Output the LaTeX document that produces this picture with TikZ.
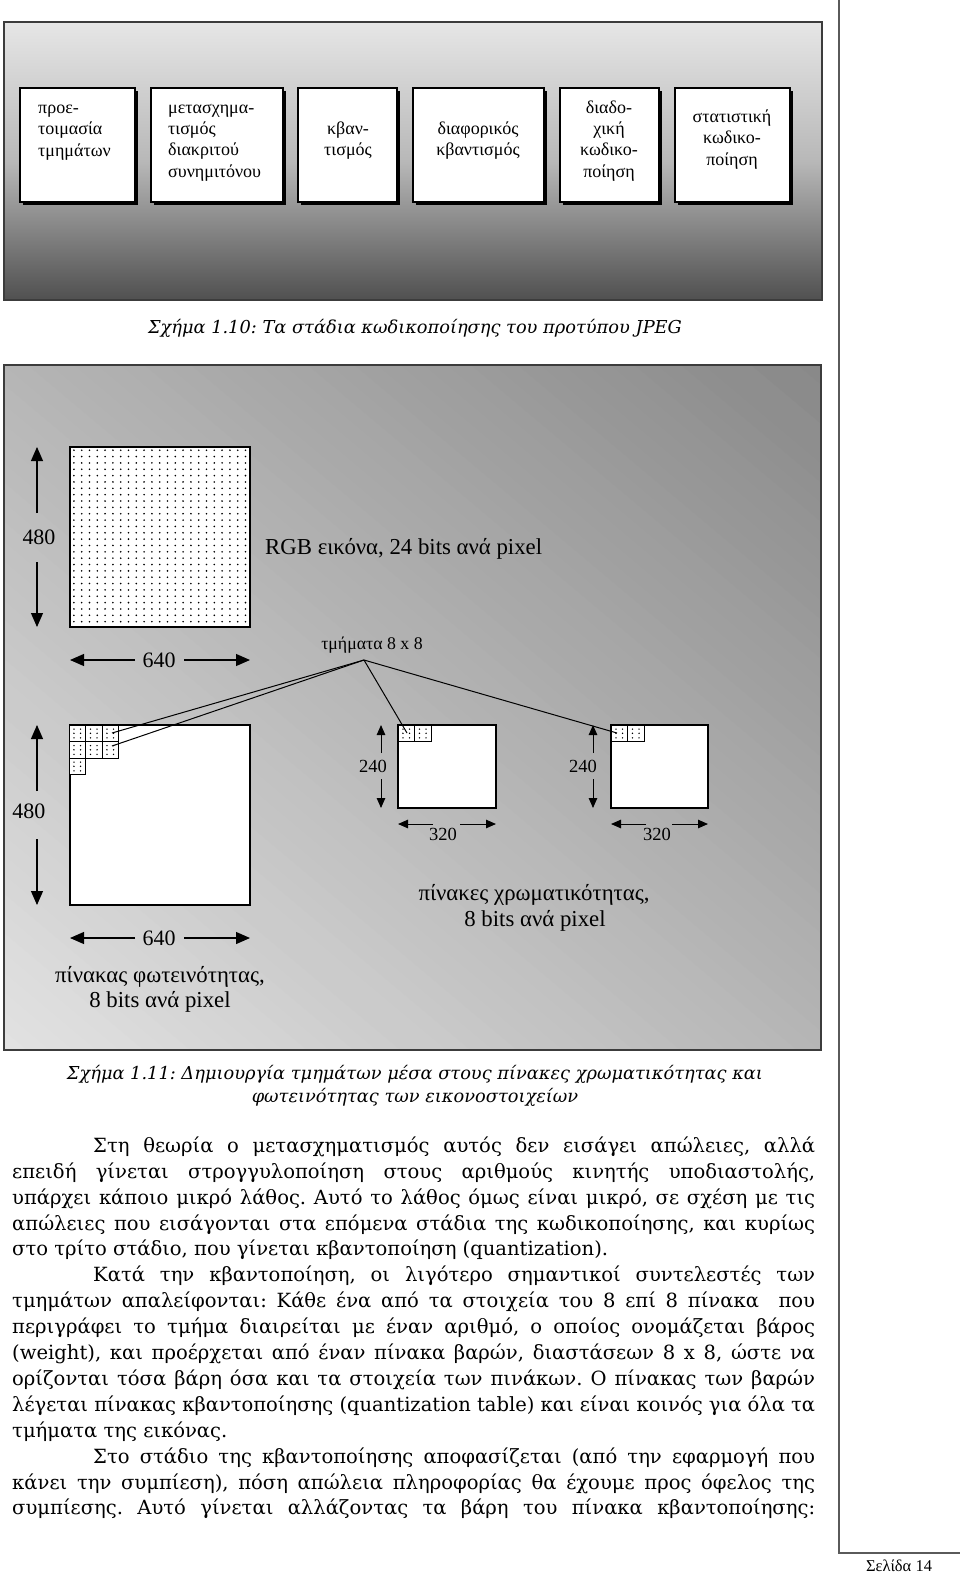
\documentclass[tikz,border=0pt]{standalone}
\usepackage{fontspec}
\usepackage{graphicx}
\setmainfont{Liberation Serif}
\newfontfamily\bodyfont{DejaVu Serif}
\usetikzlibrary{arrows.meta}
\frenchspacing

\definecolor{figAtop}{HTML}{E6E6E6}
\definecolor{figAmid}{HTML}{B8B8B8}
\definecolor{figAbot}{HTML}{505050}
\definecolor{figBdark}{HTML}{888888}
\definecolor{figBlight}{HTML}{E2E2E2}
\definecolor{frame}{HTML}{3C3C3C}
\definecolor{pageline}{HTML}{5A5A5A}

\newsavebox\calbox
\newsavebox\jbox
\newcommand\calib[4]{%
  \sbox\calbox{#2\fontsize{10pt}{12pt}\selectfont #4}%
  \pgfmathsetmacro#1{10*#3/\the\wd\calbox}}
\newcommand\jl[2]{%
  \sbox\jbox{#2}%
  \ifdim\wd\jbox>#1pt
    \pgfmathsetmacro\jr{#1/\the\wd\jbox}%
    \scalebox{\jr}[1]{\usebox\jbox}%
  \else
    \hbox to #1pt{#2}%
  \fi}

\tikzset{
  panel/.style={draw=frame, line width=1.4pt},
  stage/.style={draw=black, fill=white, line width=1.1pt, inner sep=0pt,
    preaction={fill=black, transform canvas={shift={(2.5pt,-2.5pt)}}}},
  boxtxt/.style={font=\fontsize{18}{21.3}\selectfont, inner sep=0pt},
  lbl/.style={font=\fontsize{22.8}{26}\selectfont, inner sep=0pt},
  num/.style={font=\fontsize{22}{26}\selectfont, inner sep=0pt},
  snum/.style={font=\fontsize{18.5}{22}\selectfont, inner sep=0pt},
  tmtxt/.style={font=\fontsize{17.8}{21}\selectfont, inner sep=0pt},
  bigarrow/.style={-{Triangle[length=14pt,width=12pt]}, line width=1.1pt},
  smallarrow/.style={-{Triangle[length=10pt,width=8.5pt]}, line width=1pt},
  link/.style={line width=1pt},
  img/.style={draw=black, fill=white, line width=1.1pt, inner sep=0pt},
  tile/.style={draw=black, fill=white, line width=0.9pt},
  bodyline/.style={font=\bodyfont\fontsize{\bsz}{25}\selectfont, inner sep=0pt, anchor=mid west},
  capline/.style={font=\bodyfont\itshape\fontsize{\csz}{23}\selectfont, inner sep=0pt, anchor=mid},
}

\newcommand\tiledots[2]{%
  \foreach \dx in {0.3,0.7}{\foreach \dy in {0.25,0.5,0.78}{%
    \fill (#1+\dx*16.5,#2+\dy*16.5) circle (0.8);}}}

\begin{document}
\calib{\bsz}{\bodyfont}{596}{στο τρίτο στάδιο, που γίνεται κβαντοποίηση (quantization).}%
\calib{\csz}{\bodyfont\itshape}{534}{Σχήμα 1.10: Τα στάδια κωδικοποίησης του προτύπου JPEG}%
\begin{tikzpicture}[x=1pt,y=-1pt]
\useasboundingbox (0,0) rectangle (960,1575);
\fill[white] (0,0) rectangle (960,1575);

% ---------- Figure 1.10 ----------
\shade[top color=figAtop, bottom color=figAbot, middle color=figAmid] (4,22) rectangle (822,300);
\draw[panel] (4,22) rectangle (822,300);

\node[stage, minimum width=115pt, minimum height=114pt] (s1) at (77.5,145) {};
\node[stage, minimum width=132pt, minimum height=114pt] (s2) at (217,145) {};
\node[stage, minimum width=99pt,  minimum height=114pt] (s3) at (347.5,145) {};
\node[stage, minimum width=131pt, minimum height=114pt] (s4) at (478.5,145) {};
\node[stage, minimum width=99pt,  minimum height=114pt] (s5) at (609.5,145) {};
\node[stage, minimum width=115pt, minimum height=114pt] (s6) at (732.5,145) {};

\node[boxtxt, align=left, anchor=west] (t1) at (38,130.5) {\strut προε-\\\strut τοιμασία\\\strut τμημάτων};
\node[boxtxt, align=left, anchor=west] (t2) at (168,141) {\strut μετασχημα-\\\strut τισμός\\\strut διακριτού\\\strut συνημιτόνου};
\node[boxtxt, align=center] (t3) at (348,140.5) {\strut κβαν-\\\strut τισμός};
\node[boxtxt, align=center] (t4) at (478,140.5) {\strut διαφορικός\\\strut κβαντισμός};
\node[boxtxt, align=center] (t5) at (609,141) {\strut διαδο-\\\strut χική\\\strut κωδικο-\\\strut ποίηση};
\node[boxtxt, align=center] (t6) at (732,139.5) {\strut στατιστική\\\strut κωδικο-\\\strut ποίηση};

\node[capline] (cap1) at (415,331) {Σχήμα 1.10: Τα στάδια κωδικοποίησης του προτύπου JPEG};

% ---------- Figure 1.11 ----------
\begin{scope}
  \clip (4,365) rectangle (821,1050);
  \foreach \k in {0,...,69}{%
    \pgfmathsetmacro\ta{-525+\k*15}%
    \pgfmathsetmacro\tb{\ta+15.8}%
    \pgfmathtruncatemacro\pc{(\k+0.5)/70*100}%
    \fill[figBdark!\pc!figBlight]
      (412.5+\ta*0.643-459.6, 707.5-\ta*0.766-385.8) --
      (412.5+\ta*0.643+459.6, 707.5-\ta*0.766+385.8) --
      (412.5+\tb*0.643+459.6, 707.5-\tb*0.766+385.8) --
      (412.5+\tb*0.643-459.6, 707.5-\tb*0.766-385.8) -- cycle;}
\end{scope}
\draw[panel] (4,365) rectangle (821,1050);

% RGB image
\node[img, minimum width=180pt, minimum height=180pt] (rgb) at (160,537) {};
\foreach \i in {0,...,22}{\foreach \j in {0,...,27}{%
  \fill (73.9+\i*7.8,450.2+\j*6.35) circle (0.9);}}
\node[num] (n480a) at (39,537) {480};
\draw[bigarrow] (37,513) -- (37,447);
\draw[bigarrow] (37,562) -- (37,627);
\node[num] (n640a) at (159,660) {640};
\draw[bigarrow] (135,660) -- (70,660);
\draw[bigarrow] (184,660) -- (250,660);
\node[lbl, anchor=mid west] (rgbl) at (265,552) {RGB εικόνα, 24 bits ανά pixel};

\node[tmtxt, anchor=mid] (tm) at (372,647) {τμήματα 8 x 8};
\coordinate (apex) at (364,660);

% luminance
\node[img, minimum width=180pt, minimum height=180pt] (lum) at (160,815) {};
\foreach \tx/\ty in {69/725, 85.5/725, 102/725, 69/741.5, 85.5/741.5, 102/741.5, 69/758}{%
  \draw[tile] (\tx,\ty) rectangle ++(16.5,16.5);
  \tiledots{\tx}{\ty}}
\node[num] (n480b) at (29,811) {480};
\draw[bigarrow] (37,791) -- (37,725);
\draw[bigarrow] (37,839) -- (37,905);
\node[num] (n640b) at (159,938) {640};
\draw[bigarrow] (135,938) -- (70,938);
\draw[bigarrow] (184,938) -- (250,938);
\node[lbl, anchor=mid] (luml1) at (160,980) {πίνακας φωτεινότητας,};
\node[lbl, anchor=mid] (luml2) at (160,1005) {8 bits ανά pixel};

% chroma
\node[img, minimum width=98pt, minimum height=83pt] (cra) at (447,766.5) {};
\node[img, minimum width=97pt, minimum height=83pt] (crb) at (659.5,766.5) {};
\foreach \tx in {398,414.5,611,627.5}{%
  \draw[tile] (\tx,725) rectangle ++(16.5,16.5);
  \tiledots{\tx}{725}}
\node[snum] (n240a) at (373,766) {240};
\draw[smallarrow] (381,753) -- (381,725);
\draw[smallarrow] (381,779) -- (381,808);
\node[snum] (n240b) at (583,766) {240};
\draw[smallarrow] (593,753) -- (593,725);
\draw[smallarrow] (593,779) -- (593,808);
\node[snum] (n320a) at (443,834) {320};
\draw[smallarrow] (433,824) -- (398,824);
\draw[smallarrow] (460,824) -- (496,824);
\node[snum] (n320b) at (657,834) {320};
\draw[smallarrow] (646,824) -- (611,824);
\draw[smallarrow] (672,824) -- (708,824);
\node[lbl, anchor=mid] (crl1) at (534,898) {πίνακες χρωματικότητας,};
\node[lbl, anchor=mid] (crl2) at (535,924) {8 bits ανά pixel};

% connectors
\coordinate (e1) at (112,733);
\coordinate (e2) at (112,746);
\coordinate (e3) at (407,733);
\coordinate (e4) at (617,733);
\draw[link] (apex) -- (e1);
\draw[link] (apex) -- (e2);
\draw[link] (apex) -- (e3);
\draw[link] (apex) -- (e4);

\node[capline] (cap2a) at (415,1077) {Σχήμα 1.11: Δημιουργία τμημάτων μέσα στους πίνακες χρωματικότητας και};
\node[capline] (cap2b) at (415,1100) {φωτεινότητας των εικονοστοιχείων};

% ---------- body text ----------
\node[bodyline] (p1) at (93,1150) {\jl{722}{Στη θεωρία ο μετασχηματισμός αυτός δεν εισάγει απώλειες, αλλά}};
\node[bodyline] (p2) at (12,1175.9) {\jl{803}{επειδή γίνεται στρογγυλοποίηση στους αριθμούς κινητής υποδιαστολής,}};
\node[bodyline] (p3) at (12,1201.8) {\jl{803}{υπάρχει κάποιο μικρό λάθος. Αυτό το λάθος όμως είναι μικρό, σε σχέση με τις}};
\node[bodyline] (p4) at (12,1227.7) {\jl{803}{απώλειες που εισάγονται στα επόμενα στάδια της κωδικοποίησης, και κυρίως}};
\node[bodyline] (p5) at (12,1253.6) {στο τρίτο στάδιο, που γίνεται κβαντοποίηση (quantization).};
\node[bodyline] (p6) at (93,1279.5) {\jl{722}{Κατά την κβαντοποίηση, οι λιγότερο σημαντικοί συντελεστές των}};
\node[bodyline] (p7) at (12,1305.4) {\jl{803}{τμημάτων απαλείφονται: Κάθε ένα από τα στοιχεία του 8 επί 8 πίνακα\ \ που}};
\node[bodyline] (p8) at (12,1331.3) {\jl{803}{περιγράφει το τμήμα διαιρείται με έναν αριθμό, ο οποίος ονομάζεται βάρος}};
\node[bodyline] (p9) at (12,1357.2) {\jl{803}{(weight), και προέρχεται από έναν πίνακα βαρών, διαστάσεων 8 x 8, ώστε να}};
\node[bodyline] (p10) at (12,1383.1) {\jl{803}{ορίζονται τόσα βάρη όσα και τα στοιχεία των πινάκων. Ο πίνακας των βαρών}};
\node[bodyline] (p11) at (12,1409) {\jl{803}{λέγεται πίνακας κβαντοποίησης (quantization table) και είναι κοινός για όλα τα}};
\node[bodyline] (p12) at (12,1434.9) {τμήματα της εικόνας.};
\node[bodyline] (p13) at (93,1460.8) {\jl{722}{Στο στάδιο της κβαντοποίησης αποφασίζεται (από την εφαρμογή που}};
\node[bodyline] (p14) at (12,1486.7) {\jl{803}{κάνει την συμπίεση), πόση απώλεια πληροφορίας θα έχουμε προς όφελος της}};
\node[bodyline] (p15) at (12,1512.6) {\jl{803}{συμπίεσης. Αυτό γίνεται αλλάζοντας τα βάρη του πίνακα κβαντοποίησης:}};

% ---------- page frame ----------
\draw[pageline, line width=2.2pt] (839,0) -- (839,1553) -- (960,1553);
\node[font=\fontsize{16.5}{20}\selectfont, inner sep=0pt] (pg) at (899,1566) {Σελίδα 14};
\end{tikzpicture}
\end{document}
